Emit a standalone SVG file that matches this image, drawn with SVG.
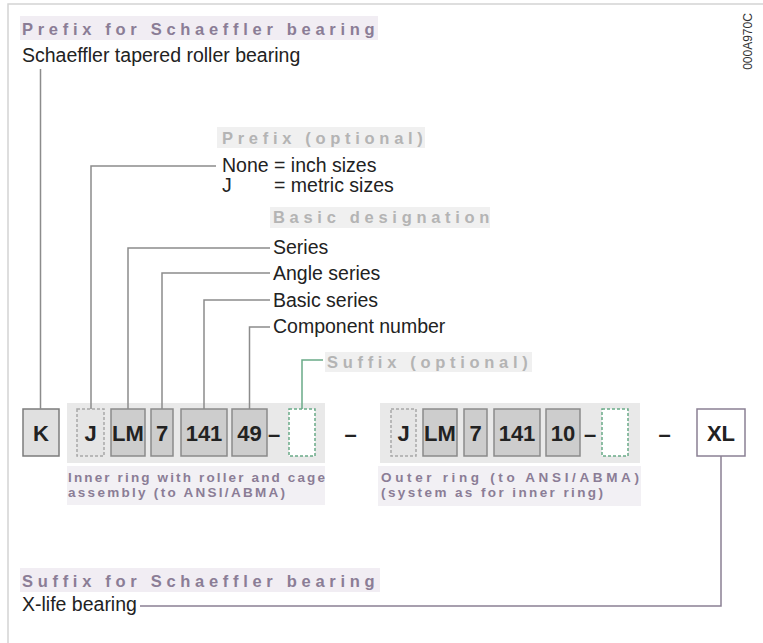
<svg xmlns="http://www.w3.org/2000/svg" width="763" height="643" viewBox="0 0 763 643">
<style>
.frame{stroke:#d4d4d4;stroke-width:1.5;fill:none}
.title{font-family:"Liberation Sans",Arial,sans-serif;font-weight:bold;font-size:16.5px;letter-spacing:4.7px;fill:#8b7d96}
.tbg{fill:#f1edf3}
.sub{font-family:"Liberation Sans",Arial,sans-serif;font-weight:bold;font-size:16.5px;letter-spacing:4.7px;fill:#b4b4b4}
.sbg{fill:#f0f0f0}
.body{font-family:"Liberation Sans",Arial,sans-serif;font-size:19.5px;fill:#222}
.band{fill:#e9e9e9}
.pbg{fill:#f2f0f4}
.ptxt{font-family:"Liberation Sans",Arial,sans-serif;font-weight:bold;font-size:13.5px;fill:#8b7d96}
.box{fill:#cdcdcd;stroke:#8a8a8a;stroke-width:1.5}
.boxk{fill:#e0e0e0;stroke:#7c7c7c;stroke-width:1.5}
.opt{fill:#e5e5e5;stroke:#a8a8a8;stroke-width:1.5;stroke-dasharray:3 2}
.sfx{fill:#ffffff;stroke:#6aaa88;stroke-width:1.5;stroke-dasharray:3 2}
.xl{fill:#ffffff;stroke:#8a8094;stroke-width:1.5}
.lbl{font-family:"Liberation Sans",Arial,sans-serif;font-weight:bold;font-size:22px;fill:#222;text-anchor:middle}
.conn{stroke:#8c8c8c;stroke-width:1.5;fill:none}
.connG{stroke:#6aaa88;stroke-width:1.5;fill:none}
.connP{stroke:#8a8094;stroke-width:1.5;fill:none}
.code{font-family:"Liberation Sans",Arial,sans-serif;font-size:12px;fill:#333;text-anchor:middle}
</style>

<path class="frame" d="M8,643 V4 H763"/>

<g id="code-id">
<text class="code" transform="translate(752,41.5) rotate(-90)">000A970C</text>
</g>

<g id="prefix-schaeffler">
<rect class="tbg" x="20" y="16" width="358" height="24"/>
<text class="title" x="22" y="35">Prefix for Schaeffler bearing</text>
<text class="body" x="22" y="62">Schaeffler tapered roller bearing</text>
</g>

<g id="prefix-optional">
<rect class="sbg" x="217" y="127" width="208" height="21"/>
<text class="sub" x="222" y="144">Prefix (optional)</text>
<text class="body" x="222" y="172">None</text>
<text class="body" x="274" y="172">= inch sizes</text>
<text class="body" x="222" y="192">J</text>
<text class="body" x="274" y="192">= metric sizes</text>
</g>

<g id="basic-designation">
<rect class="sbg" x="270" y="207" width="220" height="21"/>
<text class="sub" x="273" y="223">Basic designation</text>
<text class="body" x="273" y="254">Series</text>
<text class="body" x="273" y="280">Angle series</text>
<text class="body" x="273" y="307">Basic series</text>
<text class="body" x="273" y="333">Component number</text>
</g>

<g id="suffix-optional">
<rect class="sbg" x="325" y="352" width="207" height="20"/>
<text class="sub" x="327" y="368">Suffix (optional)</text>
</g>

<g id="inner-ring">
<rect class="band" x="67" y="403" width="258" height="60"/>
<rect class="pbg" x="67" y="466" width="258" height="39"/>
<text class="ptxt" x="68" y="482" textLength="257">Inner ring with roller and cage</text>
<text class="ptxt" x="68" y="497" textLength="217">assembly (to ANSI/ABMA)</text>
</g>

<g id="outer-ring">
<rect class="band" x="380" y="403" width="260" height="60"/>
<rect class="pbg" x="378" y="466" width="263" height="40"/>
<text class="ptxt" x="381" y="482" textLength="258">Outer ring (to ANSI/ABMA)</text>
<text class="ptxt" x="381" y="497" textLength="222">(system as for inner ring)</text>
</g>

<g id="node-K"><rect class="boxk" x="23" y="409" width="36" height="47"/><text class="lbl" x="41" y="441">K</text></g>
<g id="node-J1"><rect class="opt" x="77" y="409" width="27" height="47"/><text class="lbl" x="90.5" y="441">J</text></g>
<g id="node-LM1"><rect class="box" x="111" y="409" width="34" height="47"/><text class="lbl" x="128" y="441">LM</text></g>
<g id="node-7a"><rect class="box" x="151" y="409" width="22" height="47"/><text class="lbl" x="162" y="441">7</text></g>
<g id="node-141a"><rect class="box" x="181" y="409" width="46" height="47"/><text class="lbl" x="204" y="441">141</text></g>
<g id="node-49"><rect class="box" x="232" y="409" width="35" height="47"/><text class="lbl" x="249.5" y="441">49</text></g>
<g id="dash-1"><text class="lbl" x="274" y="442">–</text></g>
<g id="node-sfx1"><rect class="sfx" x="289" y="409" width="26" height="47"/></g>
<g id="dash-2"><text class="lbl" x="350.5" y="442">–</text></g>

<g id="node-J2"><rect class="opt" x="391" y="409" width="25" height="47"/><text class="lbl" x="403.5" y="441">J</text></g>
<g id="node-LM2"><rect class="box" x="423" y="409" width="34" height="47"/><text class="lbl" x="440" y="441">LM</text></g>
<g id="node-7b"><rect class="box" x="464" y="409" width="23" height="47"/><text class="lbl" x="475.5" y="441">7</text></g>
<g id="node-141b"><rect class="box" x="494" y="409" width="46" height="47"/><text class="lbl" x="517" y="441">141</text></g>
<g id="node-10"><rect class="box" x="546" y="409" width="34" height="47"/><text class="lbl" x="563" y="441">10</text></g>
<g id="dash-3"><text class="lbl" x="590" y="442">–</text></g>
<g id="node-sfx2"><rect class="sfx" x="602" y="409" width="26" height="47"/></g>
<g id="dash-4"><text class="lbl" x="664.5" y="442">–</text></g>
<g id="node-XL"><rect class="xl" x="697" y="409" width="48" height="47"/><text class="lbl" x="721" y="441">XL</text></g>

<g id="suffix-schaeffler">
<rect class="tbg" x="20" y="568" width="360" height="24"/>
<text class="title" x="22" y="587">Suffix for Schaeffler bearing</text>
<text class="body" x="22" y="611">X-life bearing</text>
</g>

<g id="connectors">
<path class="conn" d="M40.5,69 V409"/>
<path class="conn" d="M91,409 V166 H216"/>
<path class="conn" d="M128,409 V248 H270"/>
<path class="conn" d="M162,409 V273 H270"/>
<path class="conn" d="M204,409 V300 H270"/>
<path class="conn" d="M249.5,409 V327 H270"/>
<path class="connG" d="M302,409 V360 H323"/>
<path class="connP" d="M721,456 V606 H140"/>
</g>
</svg>
